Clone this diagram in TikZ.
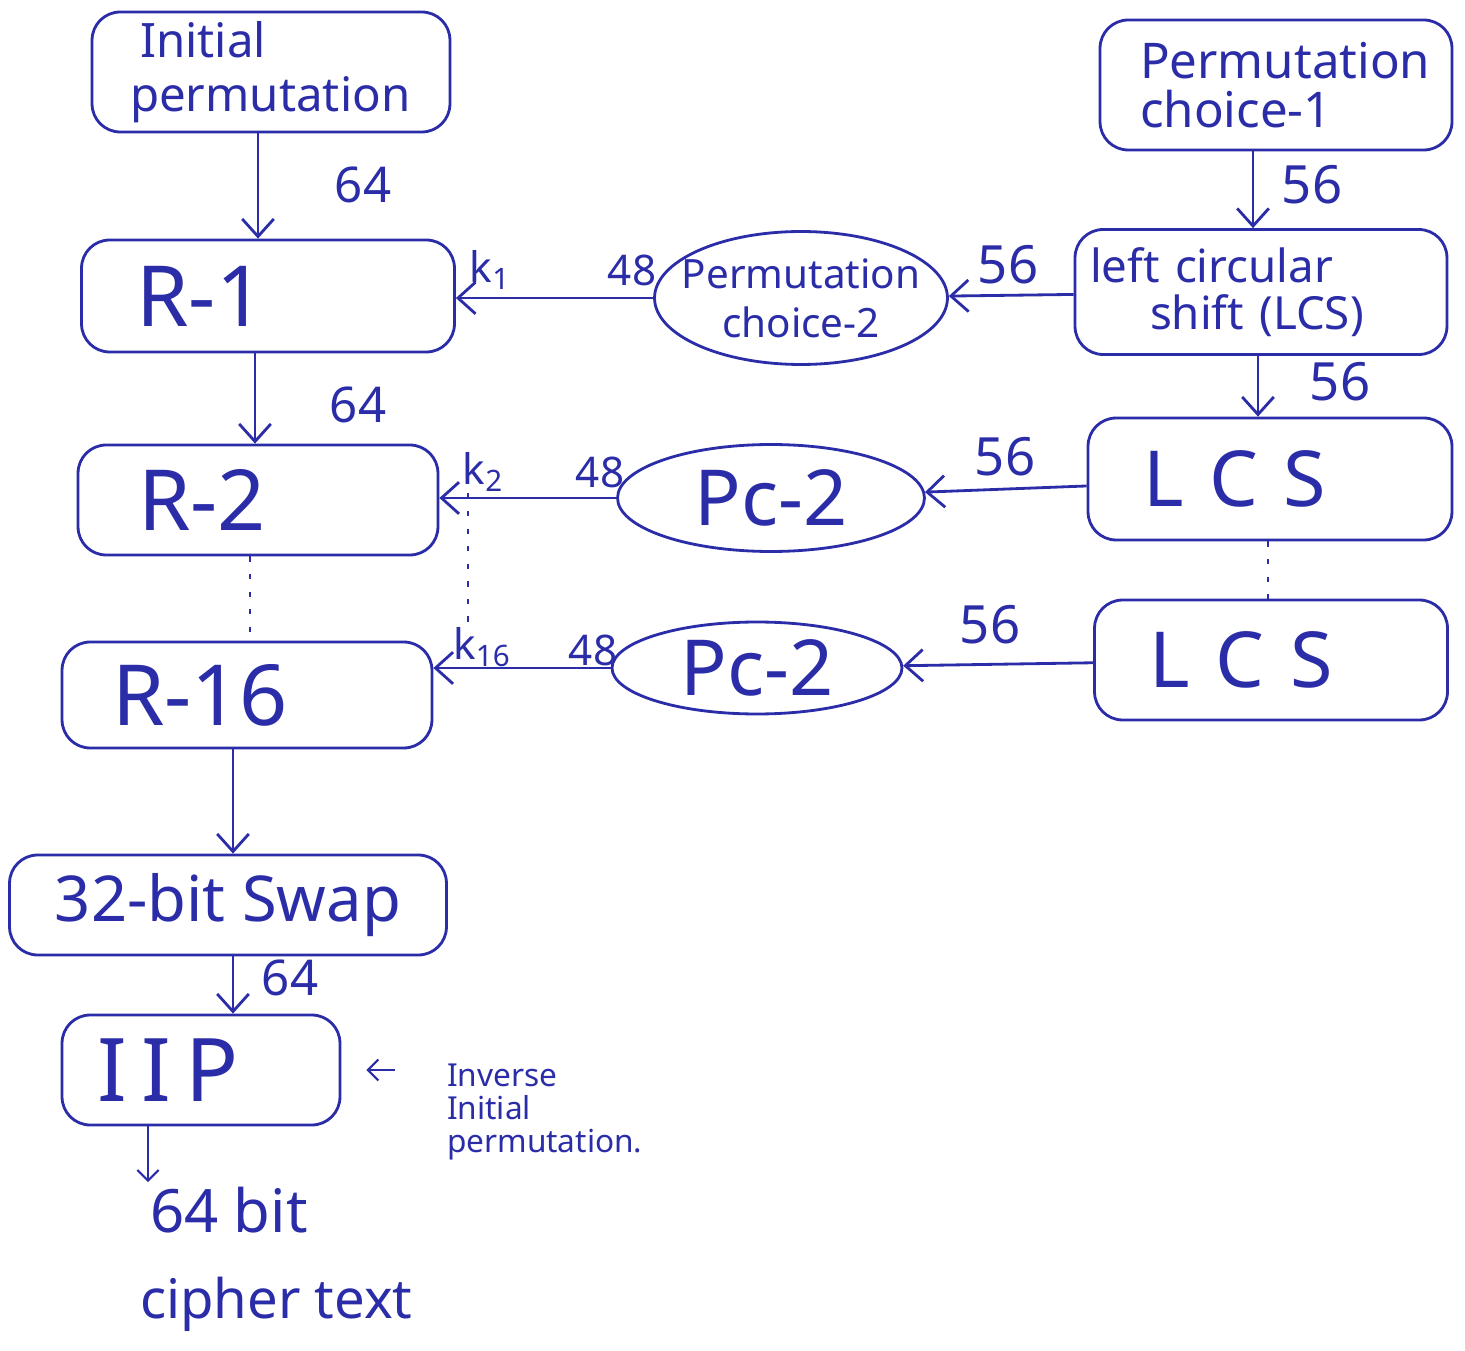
\documentclass[tikz,border=0pt]{standalone}
\usepackage{fontspec}
\setmainfont{Noto Sans}
\usetikzlibrary{arrows.meta,shapes.geometric}
\definecolor{ink}{HTML}{2B2DA8}
\begin{document}
\begin{tikzpicture}[x=0.02cm,y=-0.02cm,
  box/.style={draw=ink, line width=1.6pt, rounded corners=16pt, text=ink, align=center, inner sep=0pt},
  lbox/.style={box, align=left},
  oval/.style={draw=ink, ellipse, line width=1.6pt, text=ink, align=center, inner sep=0pt},
  lbl/.style={text=ink, inner sep=1pt},
  arr/.style={draw=ink, line width=1.6pt, -{Straight Barb[length=10pt,width=18pt,line width=1.6pt]}},
  sarr/.style={draw=ink, line width=1.2pt, -{Straight Barb[length=6pt,width=12pt,line width=1.2pt]}},
  dots/.style={draw=ink, line width=1.2pt, dash pattern=on 3pt off 7pt}]
\useasboundingbox (0,0) rectangle (1465,1351);
\fill[white] (0,0) rectangle (1465,1351);

% left column
\node[lbox, minimum width=7.16cm, minimum height=2.4cm, text width=5.64cm, inner xsep=0.76cm, font=\fontsize{27}{31}\selectfont] (ip) at (271,72) {\hspace*{0.2cm}Initial\\permutation};
\node[lbox, minimum width=7.46cm, minimum height=2.24cm, text width=5.26cm, inner xsep=1.1cm, font=\fontsize{48}{50}\selectfont] (r1) at (268,296) {R-1};
\node[lbox, minimum width=7.2cm, minimum height=2.2cm, text width=4.8cm, inner xsep=1.2cm, font=\fontsize{48}{50}\selectfont] (r2) at (258,500) {R-2};
\node[lbox, minimum width=7.4cm, minimum height=2.12cm, text width=5.4cm, inner xsep=1.0cm, font=\fontsize{48}{50}\selectfont] (r16) at (247,695) {R-16};
\node[box, minimum width=8.74cm, minimum height=2.0cm, font=\fontsize{36}{40}\selectfont] (swap) at (228,905) {32-bit Swap};
\node[lbox, minimum width=5.56cm, minimum height=2.2cm, text width=4.16cm, inner xsep=0.7cm, font=\fontsize{50}{52}\selectfont] (iip) at (201,1070) {I\,I\,P};
\node[lbl, font=\fontsize{34}{42}\selectfont, align=left, anchor=north west] (ct) at (138,1185) {\hspace*{0.2cm}64 bit\\[0.25cm]{\fontsize{31}{42}\selectfont cipher text}};
\node[lbl, font=\fontsize{18}{19}\selectfont, align=left, anchor=west] (ann) at (445,1112) {Inverse\\Initial\\permutation.};

% right column
\node[lbox, minimum width=7.04cm, minimum height=2.6cm, text width=5.44cm, inner xsep=0.8cm, font=\fontsize{28}{28}\selectfont] (pc1) at (1276,85) {Permutation\\choice-1};
\node[lbox, minimum width=7.44cm, minimum height=2.5cm, text width=6.84cm, inner xsep=0.3cm, font=\fontsize{26}{27}\selectfont] (lcs0) at (1261,292) {left circular\\\hspace*{1.2cm}shift (LCS)};
\node[lbox, minimum width=7.28cm, minimum height=2.44cm, text width=5.08cm, inner xsep=1.1cm, font=\fontsize{44}{46}\selectfont] (lcs1) at (1270,479) {L C S};
\node[lbox, minimum width=7.06cm, minimum height=2.4cm, text width=4.86cm, inner xsep=1.1cm, font=\fontsize{44}{46}\selectfont] (lcs2) at (1271,660) {L C S};

% middle ellipses
\node[oval, minimum width=5.86cm, minimum height=2.66cm, inner xsep=-0.5cm, inner ysep=-0.1cm, font=\fontsize{23}{28}\selectfont] (pce2) at (801,298) {Permutation\\choice-2};
\node[oval, minimum width=6.14cm, minimum height=2.14cm, inner xsep=-0.3cm, inner ysep=-0.1cm, font=\fontsize{44}{46}\selectfont] (pc2a) at (771,498) {Pc-2};
\node[oval, minimum width=5.8cm, minimum height=1.84cm, inner xsep=-0.3cm, inner ysep=-0.1cm, font=\fontsize{44}{46}\selectfont] (pc2b) at (757,668) {Pc-2};

% labels
\node[lbl, font=\fontsize{28}{30}\selectfont] (l1) at (363,185) {64};
\node[lbl, font=\fontsize{28}{30}\selectfont] (l2) at (358,405) {64};
\node[lbl, font=\fontsize{28}{30}\selectfont] (l3) at (290,978) {64};
\node[lbl, font=\fontsize{30}{32}\selectfont] (l4) at (1312,185) {56};
\node[lbl, font=\fontsize{30}{32}\selectfont] (l5) at (1008,265) {56};
\node[lbl, font=\fontsize{30}{32}\selectfont] (l6) at (1340,382) {56};
\node[lbl, font=\fontsize{30}{32}\selectfont] (l7) at (1005,457) {56};
\node[lbl, font=\fontsize{30}{32}\selectfont] (l8) at (990,625) {56};
\node[lbl, font=\fontsize{24}{26}\selectfont] (m1) at (632,270) {48};
\node[lbl, font=\fontsize{24}{26}\selectfont] (m2) at (600,472) {48};
\node[lbl, font=\fontsize{24}{26}\selectfont] (m3) at (593,650) {48};
\node[lbl, font=\fontsize{24}{26}\selectfont] (k1) at (490,270) {k\textsubscript{1}};
\node[lbl, font=\fontsize{24}{26}\selectfont] (k2) at (483,472) {k\textsubscript{2}};
\node[lbl, font=\fontsize{24}{26}\selectfont] (k16) at (482,647) {k\textsubscript{16}};

% left column arrows
\draw[arr] (ip.south -| 258,0) -- (r1.north -| 258,0);
\draw[arr] (r1.south -| 255,0) -- (r2.north -| 255,0);
\draw[dots] (r2.south -| 250,0) -- (r16.north -| 250,0);
\draw[arr] (r16.south -| 233,0) -- (swap.north -| 233,0);
\draw[arr] (swap.south -| 233,0) -- (iip.north -| 233,0);
\coordinate (ctop) at (148,1182);
\draw[sarr] (iip.south -| ctop) -- (ctop);
\draw[sarr, shorten <=1cm, shorten >=0.5cm] (ann.west |- iip.east) -- (iip.east);

% right column arrows
\draw[arr] (pc1.south -| 1253,0) -- (lcs0.north -| 1253,0);
\draw[arr] (lcs0.south -| 1258,0) -- (lcs1.north -| 1258,0);
\draw[dots] (lcs1.south -| 1268,0) -- (lcs2.north -| 1268,0);

% horizontal arrows
\draw[arr] (lcs0) -- (pce2);
\draw[arr] (pce2.west) -- (pce2.west -| r1.east);
\draw[arr] (lcs1) -- (pc2a);
\draw[arr] (pc2a.west) -- (pc2a.west -| r2.east);
\draw[arr] (lcs2) -- (pc2b);
\draw[arr] (pc2b.west) -- (pc2b.west -| r16.east);
\draw[dots] (k2.south -| 468,0) -- (k16.north -| 468,0);
\end{tikzpicture}
\end{document}
